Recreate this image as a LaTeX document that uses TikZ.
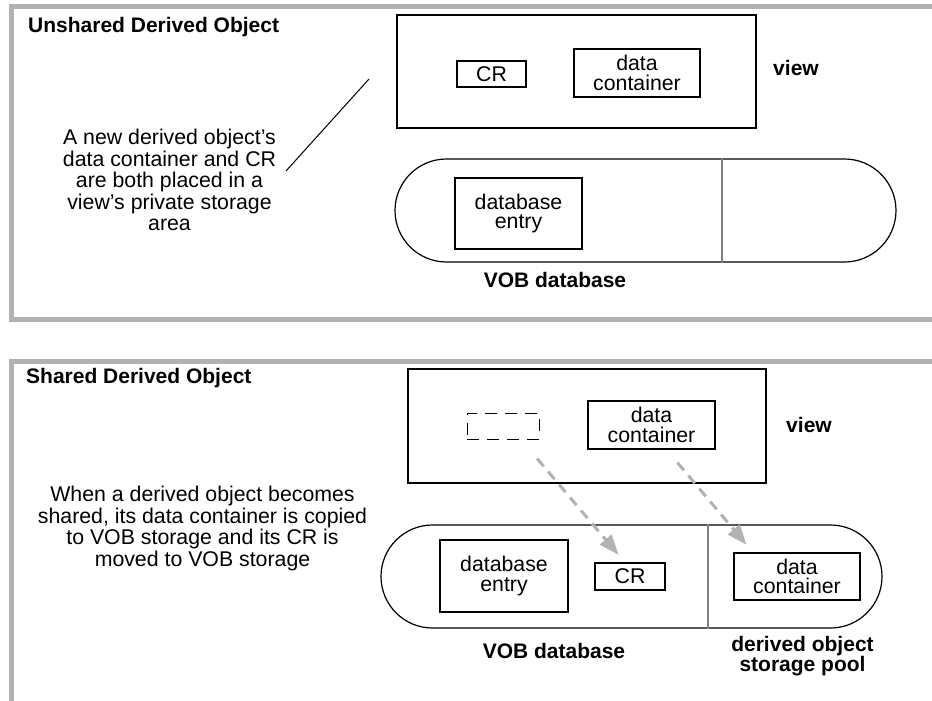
\documentclass[tikz,border=0pt]{standalone}
\usepackage{fontspec}
\setmainfont{Liberation Sans}
\usetikzlibrary{arrows.meta}

\newcommand{\cajafont}{\fontsize{21.3}{19.5}\selectfont}
\newcommand{\textofont}{\fontsize{21.3}{21.5}\selectfont}
\newcommand{\rotulofont}{\fontsize{21}{19}\selectfont\bfseries}

\tikzset{
    marco/.style={draw=black!30, line width=5pt},
    caja/.style={draw, line width=1.2pt, inner sep=0pt, align=center, font=\cajafont},
    deposito/.style={draw, line width=1.2pt, rounded corners=51.5pt, minimum width=501pt, minimum height=103pt, inner sep=0pt},
    division/.style={draw=black!50, line width=2pt},
    rotulo/.style={font=\rotulofont, inner sep=0pt, align=center},
    texto/.style={font=\textofont, inner sep=0pt, align=center},
    flecha/.style={draw=black!30, line width=3pt, dash pattern=on 10pt off 7pt, -{Triangle[length=20pt,width=15pt]}}
}

\begin{document}
\begin{tikzpicture}[x=1pt, y=-1pt]
    \useasboundingbox (0,0) rectangle (932,701);

    % Marcos
    \draw[marco] (932,6.5) -| (11.5,319.5) -- (932,319.5);
    \draw[marco] (932,361) -| (11.5,701);

    % Objeto no compartido
    \node[rotulo, anchor=base west] (titulo1) at (28,33) {Unshared Derived Object};
    \node[caja, minimum width=359pt, minimum height=113pt] (vista1) at (576.5,71.5) {};
    \node[caja, minimum width=69pt, minimum height=26pt] (cr1) at (491.5,74) {CR};
    \node[caja, minimum width=126pt, minimum height=48pt] (contenedor1) at (637,73) {data\\container};
    \node[rotulo, anchor=base] (etiqvista1) at (796,75) {view};
    \node[deposito] (deposito1) at (645.5,210.5) {};
    \draw[division] ([xshift=76.5pt]deposito1.north) -- ([xshift=76.5pt]deposito1.south);
    \node[caja, minimum width=127pt, minimum height=71pt] (entrada1) at (518.5,213.5) {database\\entry};
    \node[rotulo, anchor=base] (etiqvob1) at (555,287) {VOB database};
    \node[texto, anchor=north] (nota1) at (169.5,129)
        {A new derived object’s\\data container and CR\\are both placed in a\\view’s private storage\\area};
    % Puntero
    \coordinate (puntero1) at (369,79);
    \coordinate (puntero2) at (286,171);
    \draw[line width=1pt] (puntero1) -- (puntero2);

    % Objeto compartido
    \node[rotulo, anchor=base west] (titulo2) at (26,383) {Shared Derived Object};
    \node[caja, minimum width=358pt, minimum height=114pt] (vista2) at (587,426) {};
    \node[caja, dash pattern=on 12pt off 8pt, line width=1pt, minimum width=72pt, minimum height=26pt] (hueco) at (503,426) {};
    \node[caja, minimum width=127pt, minimum height=48pt] (contenedor2) at (651.5,425) {data\\container};
    \node[rotulo, anchor=base] (etiqvista2) at (809,432) {view};
    \node[deposito] (deposito2) at (631.5,576.5) {};
    \draw[division] ([xshift=76.5pt]deposito2.north) -- ([xshift=76.5pt]deposito2.south);
    \node[caja, minimum width=128pt, minimum height=72pt] (entrada2) at (504,576) {database\\entry};
    \node[caja, minimum width=70pt, minimum height=27pt] (cr2) at (630,576.5) {CR};
    \node[caja, minimum width=126pt, minimum height=47pt] (contenedor3) at (797,576.5) {data\\container};
    \node[rotulo, anchor=base] (etiqvob2) at (554,658) {VOB database};
    \node[rotulo, anchor=north] (etiqpool) at (802.5,636) {derived object\\storage pool};
    \node[texto, anchor=north] (nota2) at (202.5,486)
        {When a derived object becomes\\shared, its data container is copied\\to VOB storage and its CR is\\moved to VOB storage};

    % Flechas
    \draw[flecha, shorten <=25pt, shorten >=10pt] ([xshift=18pt]hueco.south) -- ([xshift=-5pt]cr2.north);
    \draw[flecha, shorten <=17pt, shorten >=10pt] ([xshift=15pt]contenedor2.south) -- ([xshift=-44pt]contenedor3.north);
\end{tikzpicture}
\end{document}
